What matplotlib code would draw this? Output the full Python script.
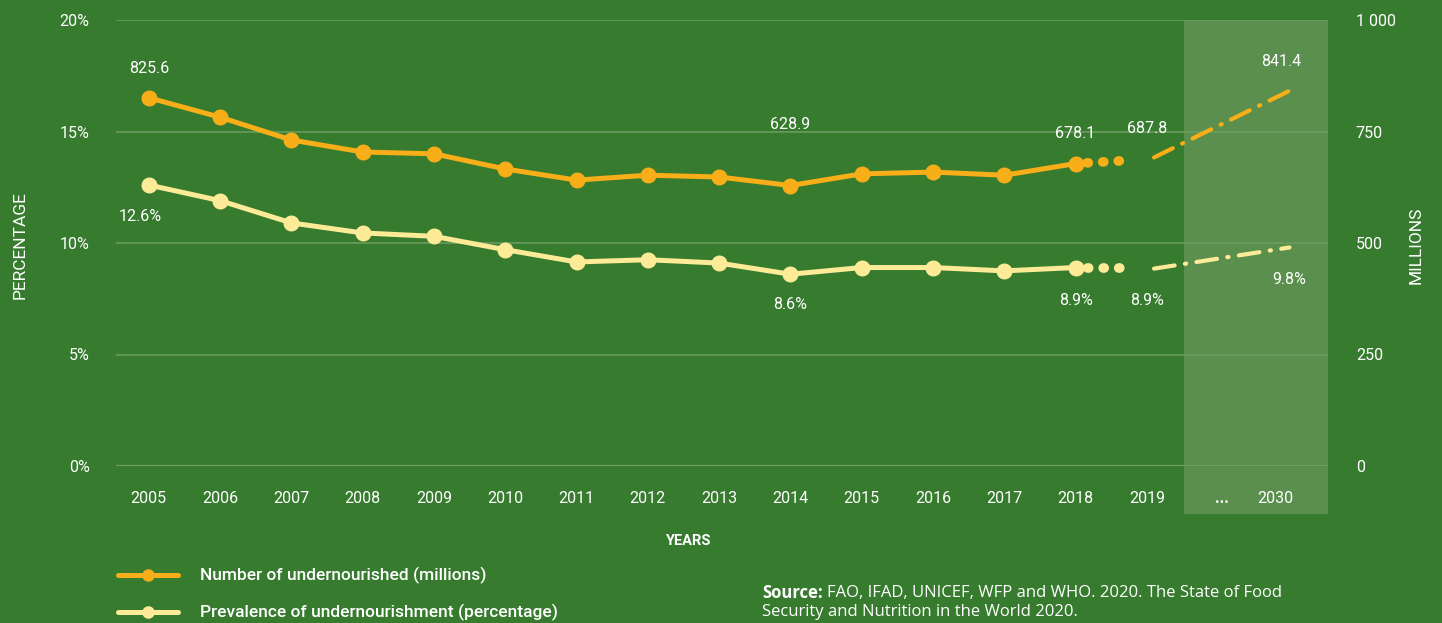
import matplotlib.pyplot as plt
from matplotlib.patches import Rectangle
from matplotlib.lines import Line2D

plt.rcParams['font.family'] = ['Roboto', 'DejaVu Sans']

# data
years = ['2005', '2006', '2007', '2008', '2009', '2010', '2011', '2012',
         '2013', '2014', '2015', '2016', '2017', '2018', '2019']
number = [825.6, 782, 731, 704, 700, 666, 641, 652, 648, 628.9, 655, 659, 652, 678.1]
prevalence = [12.6, 11.9, 10.9, 10.45, 10.3, 9.7, 9.15, 9.25, 9.1, 8.6, 8.9, 8.9, 8.75, 8.9]
number_2019, number_2030 = 687.8, 841.4
prev_2019, prev_2030 = 8.9, 9.8

BG = '#377b2f'
ORANGE = '#f7ae18'
YELLOW = '#fdeb98'
GRID = '#6f9d62'

fig = plt.figure(figsize=(14.42, 6.23), dpi=100, facecolor=BG)
ax = fig.add_axes([116/1442, 1-466/623, 1212/1442, 446/623])
ax.set_facecolor(BG)
ax2 = ax.twinx()

x = list(range(len(number)))
x19, x30 = 14, 16

ax.set_xlim(-0.46, 16.54)
ax.set_ylim(0, 20)
ax2.set_ylim(0, 1000)
for a in (ax, ax2):
    for s in a.spines.values():
        s.set_visible(False)

# shaded projection area
ax.add_patch(Rectangle((14.52, -0.108), 2.02, 1.108, transform=ax.get_xaxis_transform(),
                       facecolor='#5b8f4d', edgecolor='none', clip_on=False, zorder=0))

for v in [0, 5, 10, 15, 20]:
    ax.axhline(v, color=GRID, lw=1.6 if v == 0 else 1.1, zorder=1)

dots = (0.4, (0.1, 1.5))
dashdot = (0, (5, 2.5, 0.3, 2.5))

# orange series (millions, right axis)
ax2.plot(x, number, color=ORANGE, lw=3.6, marker='o', ms=10.5, zorder=3)
ax2.plot([13, x19 - 0.2], [number[-1], number_2019 - 2], color=ORANGE, lw=7,
         linestyle=dots, dash_capstyle='round', zorder=3)
ax2.plot([14.1, x30], [number_2019 + 4, number_2030], color=ORANGE, lw=3,
         linestyle=dashdot, dash_capstyle='round', zorder=3)

# yellow series (percentage, left axis)
ax.plot(x, prevalence, color=YELLOW, lw=3.6, marker='o', ms=10.5, zorder=3)
ax.plot([13, x19 - 0.2], [prevalence[-1], prev_2019], color=YELLOW, lw=7,
        linestyle=dots, dash_capstyle='round', zorder=3)
ax.plot([14.1, x30], [prev_2019 - 0.05, prev_2030], color=YELLOW, lw=3,
        linestyle=dashdot, dash_capstyle='round', zorder=3)

lab = dict(color='white', fontsize=11.5, ha='center', va='center')
ax2.annotate('825.6', (0, number[0]), xytext=(0, 21), textcoords='offset points', **lab)
ax2.annotate('628.9', (9, number[9]), xytext=(0, 44), textcoords='offset points', **lab)
ax2.annotate('678.1', (13, number[13]), xytext=(0, 22), textcoords='offset points', **lab)
ax2.annotate('687.8', (x19, number_2019), xytext=(0, 22), textcoords='offset points', **lab)
ax2.annotate('841.4', (x30, number_2030), xytext=(-6, 21), textcoords='offset points', **lab)
ax.annotate('12.6%', (0, prevalence[0]), xytext=(-6, -23), textcoords='offset points', **lab)
ax.annotate('8.6%', (9, prevalence[9]), xytext=(0, -22), textcoords='offset points', **lab)
ax.annotate('8.9%', (13, prevalence[13]), xytext=(0, -24), textcoords='offset points', **lab)
ax.annotate('8.9%', (x19, prev_2019), xytext=(0, -24), textcoords='offset points', **lab)
ax.annotate('9.8%', (x30, prev_2030), xytext=(0, -23), textcoords='offset points', **lab)

# ticks
ax.set_xticks(list(range(15)) + [15.05, 15.8])
ax.set_xticklabels(years + ['...', '2030'])
ax.get_xticklabels()[15].set_fontweight('bold')
ax.set_yticks([0, 5, 10, 15, 20])
ax.set_yticklabels(['0%', '5%', '10%', '15%', '20%'])
ax2.set_yticks([0, 250, 500, 750, 1000])
ax2.set_yticklabels(['0', '250', '500', '750', '1 000'], ha='left')
ax.tick_params(axis='x', length=0, pad=18, labelcolor='white', labelsize=11.5)
ax.tick_params(axis='y', length=0, pad=19, labelcolor='white', labelsize=11.5)
ax2.tick_params(axis='y', length=0, pad=20, labelcolor='white', labelsize=11.5)

fig.text(20/1442, 1-245/623, 'PERCENTAGE', rotation=90, color='white', fontsize=12.5,
         ha='center', va='center')
fig.text(1416/1442, 1-245/623, 'MILLIONS', rotation=90, color='white', fontsize=12.5,
         ha='center', va='center')
fig.text(688/1442, 1-541/623, 'YEARS', color='white', fontsize=10.5, fontweight='bold',
         ha='center', va='center')

# legend
for yy, col, txt in [(575, ORANGE, 'Number of undernourished (millions)'),
                     (612, YELLOW, 'Prevalence of undernourishment (percentage)')]:
    fy = 1 - yy/623
    fig.add_artist(Line2D([118/1442, 178/1442], [fy, fy], color=col, lw=3.6,
                          solid_capstyle='round', transform=fig.transFigure))
    fig.add_artist(Line2D([148/1442], [fy], color=col, marker='o', ms=8,
                          transform=fig.transFigure))
    fig.text(200/1442, fy, txt, color='white', fontsize=12.5, ha='left', va='center',
             fontweight='medium')

# source note
srcfont = ['Open Sans', 'DejaVu Sans']
bold = fig.text(762/1442, 1-593/623, 'Source:', color='white', fontsize=12,
                ha='left', va='center', family=srcfont, fontweight='bold')
r = fig.canvas.get_renderer()
bb = bold.get_window_extent(renderer=r)
fig.text((bb.x1 + 4)/1442, 1-593/623, 'FAO, IFAD, UNICEF, WFP and WHO. 2020. The State of Food',
         color='white', fontsize=12, ha='left', va='center', family=srcfont)
fig.text(762/1442, 1-612/623, 'Security and Nutrition in the World 2020.',
         color='white', fontsize=12, ha='left', va='center', family=srcfont)

fig.savefig('out.png', dpi=100, facecolor=BG)
